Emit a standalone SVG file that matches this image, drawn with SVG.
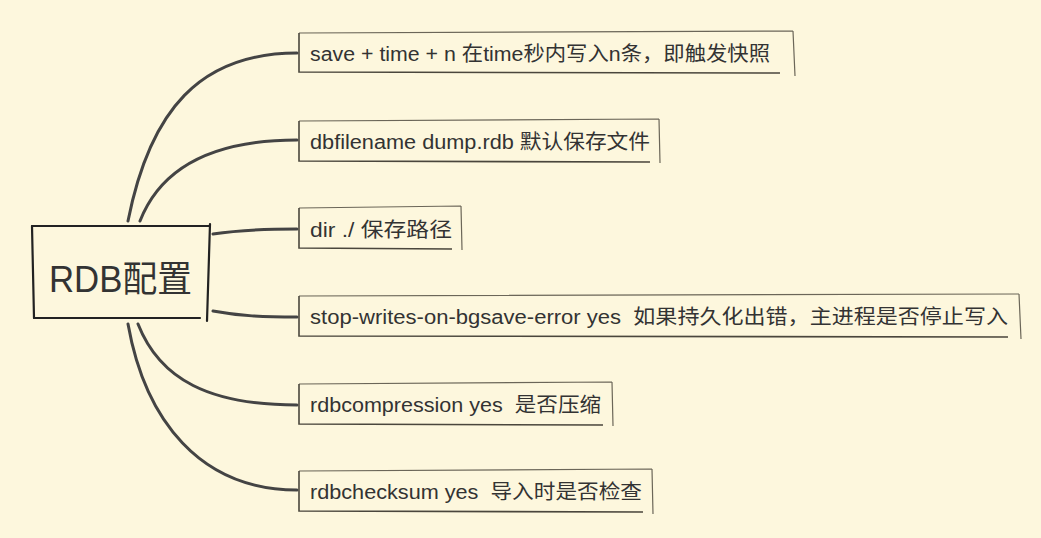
<svg xmlns="http://www.w3.org/2000/svg" width="1041" height="538" viewBox="0 0 1041 538">
<style>
.bg{fill:#FDF7DD}
.conn{fill:none;stroke:#444;stroke-width:3;stroke-linecap:round}
.edge-t{fill:none;stroke:#6b6658;stroke-width:1.2}
.edge-b{fill:none;stroke:#4a463c;stroke-width:1.6}
.root-e{fill:none;stroke:#222;stroke-width:2.2;stroke-linecap:round}
.lbl{font-family:"Liberation Sans","Noto Sans CJK SC",sans-serif;font-size:20px;fill:#333;white-space:pre}
.root-t{font-family:"Liberation Sans","Noto Sans CJK SC",sans-serif;font-size:36px;fill:#333}
</style>
<rect class="bg" x="0" y="0" width="1041" height="538"/>
<g id="connectors">
<path class="conn" d="M128,221 C150,110 200,53 297,53"/>
<path class="conn" d="M140,221 C160,170 210,140 297,140"/>
<path class="conn" d="M213,234 C240,230 262,229 297,229"/>
<path class="conn" d="M213,311 C240,316 262,317 297,317"/>
<path class="conn" d="M138,324 C160,380 210,405 297,405"/>
<path class="conn" d="M128,324 C145,420 200,490 297,490"/>
</g>
<g id="root">
<path class="root-e" d="M32,226 L210,226"/>
<path class="root-e" d="M32,226 L34,318"/>
<path class="root-e" d="M34,318 L200,318"/>
<path class="root-e" d="M210,224 L207,321"/>
<text class="root-t" x="49" y="292" textLength="143" lengthAdjust="spacingAndGlyphs">RDB配置</text>
</g>
<g id="n1">
<path class="edge-t" d="M299,33 L793,31 M793,31 L795,76"/>
<path class="edge-b" d="M299,33 L299,72 L780,73"/>
<text class="lbl" x="310" y="61" textLength="460" lengthAdjust="spacingAndGlyphs">save + time + n 在time秒内写入n条，即触发快照</text>
</g>
<g id="n2">
<path class="edge-t" d="M299,121 L659,119 M659,119 L660,163"/>
<path class="edge-b" d="M299,121 L299,161 L650,162"/>
<text class="lbl" x="310" y="149" textLength="340" lengthAdjust="spacingAndGlyphs">dbfilename dump.rdb 默认保存文件</text>
</g>
<g id="n3">
<path class="edge-t" d="M299,208 L461,206 M461,206 L462,250"/>
<path class="edge-b" d="M299,208 L299,248 L452,249"/>
<text class="lbl" x="310" y="237" textLength="142" lengthAdjust="spacingAndGlyphs">dir ./ 保存路径</text>
</g>
<g id="n4">
<path class="edge-t" d="M299,296 L1019,294 M1019,294 L1021,339"/>
<path class="edge-b" d="M299,296 L299,336 L1008,337"/>
<text class="lbl" x="310" y="324" textLength="698" lengthAdjust="spacingAndGlyphs">stop-writes-on-bgsave-error yes  如果持久化出错，主进程是否停止写入</text>
</g>
<g id="n5">
<path class="edge-t" d="M299,384 L612,382 M612,382 L613,426"/>
<path class="edge-b" d="M299,384 L299,424 L603,425"/>
<text class="lbl" x="310" y="412" textLength="291" lengthAdjust="spacingAndGlyphs">rdbcompression yes  是否压缩</text>
</g>
<g id="n6">
<path class="edge-t" d="M299,471 L652,469 M652,469 L653,514"/>
<path class="edge-b" d="M299,471 L299,511 L643,512"/>
<text class="lbl" x="310" y="499" textLength="332" lengthAdjust="spacingAndGlyphs">rdbchecksum yes  导入时是否检查</text>
</g>
</svg>
